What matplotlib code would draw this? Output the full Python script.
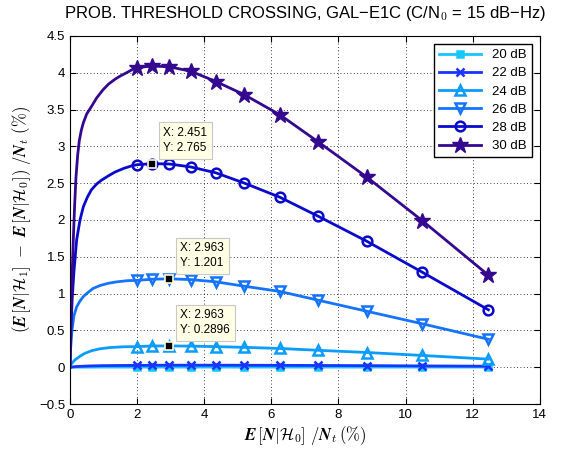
import matplotlib
matplotlib.use("Agg")
import matplotlib.pyplot as plt

plt.rcParams['font.family'] = ['Liberation Sans', 'DejaVu Sans']
plt.rcParams['mathtext.fontset'] = 'cm'

# ---- data ----
snr_labels = ['20 dB', '22 dB', '24 dB', '26 dB', '28 dB', '30 dB']

# marker positions (x) shared by all curves
x_mk = [2.0, 2.451, 2.963, 3.6, 4.35, 5.2, 6.25, 7.4, 8.85, 10.5, 12.47]

# rising part near origin (no markers)
x_rise_20 = [0.0, 0.5, 1.0, 1.5]
y_rise_20 = [0.0, 0.001, 0.002, 0.002]
x_rise_22 = [0.0, 0.2, 0.6, 1.0, 1.5]
y_rise_22 = [0.0, 0.010, 0.018, 0.022, 0.024]
x_rise_24 = [0.0, 0.05, 0.15, 0.3, 0.45, 0.65, 0.89, 1.2, 1.6]
y_rise_24 = [0.0, 0.05, 0.10, 0.15, 0.19, 0.225, 0.25, 0.268, 0.278]
x_rise_26 = [0.0, 0.02, 0.06, 0.12, 0.2, 0.3, 0.4, 0.55, 0.69, 0.9, 1.14, 1.4, 1.7]
y_rise_26 = [0.0, 0.25, 0.50, 0.70, 0.82, 0.90, 0.96, 1.02, 1.07, 1.11, 1.14, 1.16, 1.175]
x_rise_28 = [0.0, 0.03, 0.07, 0.12, 0.2, 0.3, 0.4, 0.52, 0.64, 0.8, 0.94, 1.15, 1.34, 1.6, 1.84]
y_rise_28 = [0.0, 0.55, 0.95, 1.30, 1.73, 2.00, 2.18, 2.31, 2.41, 2.49, 2.54, 2.60, 2.65, 2.70, 2.735]
x_rise_30 = [0.0, 0.02, 0.05, 0.08, 0.11, 0.14, 0.18, 0.23, 0.28, 0.34, 0.40, 0.5, 0.64, 0.8,
             0.99, 1.15, 1.34, 1.5, 1.69, 1.85]
y_rise_30 = [0.0, 0.55, 1.05, 1.45, 1.85, 2.20, 2.58, 2.88, 3.08, 3.22, 3.32, 3.44, 3.54, 3.66,
             3.77, 3.845, 3.91, 3.955, 4.0, 4.04]

# values at marker positions
y_20 = [0.002, 0.002, 0.002, 0.002, 0.002, 0.002, 0.002, 0.002, 0.002, 0.002, 0.002]
y_22 = [0.025, 0.027, 0.028, 0.028, 0.028, 0.027, 0.026, 0.024, 0.022, 0.018, 0.014]
y_24 = [0.280, 0.289, 0.2896, 0.287, 0.280, 0.270, 0.255, 0.230, 0.200, 0.160, 0.110]
y_26 = [1.18, 1.195, 1.201, 1.19, 1.16, 1.10, 1.03, 0.91, 0.76, 0.59, 0.38]
y_28 = [2.75, 2.765, 2.76, 2.72, 2.64, 2.50, 2.31, 2.05, 1.71, 1.29, 0.78]
y_30 = [4.07, 4.09, 4.08, 4.02, 3.88, 3.70, 3.43, 3.06, 2.58, 1.99, 1.25]

# data tips: (x, y)
tips_x = [2.451, 2.963, 2.963]
tips_y = [2.765, 1.201, 0.2896]

rises = [(x_rise_20, y_rise_20), (x_rise_22, y_rise_22), (x_rise_24, y_rise_24),
         (x_rise_26, y_rise_26), (x_rise_28, y_rise_28), (x_rise_30, y_rise_30)]
marks = [y_20, y_22, y_24, y_26, y_28, y_30]

colors = ['#14c8ff', '#1a33ff', '#0a9cff', '#1473ff', '#0a0acc', '#34088f']
markers = ['s', 'x', '^', 'v', 'o', '*']
msizes = [5, 6, 7.5, 7.5, 7, 12]

fig = plt.figure(figsize=(5.64, 4.54), dpi=100)
ax = fig.add_axes([0.124, 0.110, 0.833, 0.811])

for i in range(len(snr_labels)):
    xr, yr = rises[i]
    xs = xr + x_mk
    ys = yr + marks[i]
    mfc = colors[i] if markers[i] in ('s', '*') else 'none'
    ax.plot(xs, ys, color=colors[i], lw=2.0, marker=markers[i], ms=msizes[i],
            mew=1.8 if markers[i] != '*' else 1.0, mfc=mfc, mec=colors[i],
            markevery=list(range(len(xr), len(xs))), label=snr_labels[i])

for tx, ty in zip(tips_x, tips_y):
    ax.plot(tx, ty, 's', color='k', ms=6, mec='#fffbd5', mew=1.2, zorder=5)
    ax.annotate('X: %s\nY: %s' % (tx, ty), xy=(tx, ty), xytext=(8, 7),
                textcoords='offset points', ha='left', va='bottom', fontsize=8.5,
                linespacing=1.3,
                bbox=dict(boxstyle='square,pad=0.4', fc='#ffffe6', ec='#c8c8c8', lw=0.8),
                zorder=6)

ax.set_xlim(0, 14)
ax.set_ylim(-0.5, 4.5)
ax.set_xticks(range(0, 15, 2))
ax.set_yticks([-0.5, 0, 0.5, 1, 1.5, 2, 2.5, 3, 3.5, 4, 4.5])
ax.set_yticklabels(['\u22120.5', '0', '0.5', '1', '1.5', '2', '2.5', '3', '3.5', '4', '4.5'])
ax.tick_params(direction='in', top=True, right=True, labelsize=9.5, length=4)
ax.grid(True, linestyle=(0, (1, 3)), color='k', lw=0.6)

ax.set_xlabel(r'$\mathbfit{E}\,[\mathbfit{N}|\mathcal{H}_0]\ /\mathbfit{N}_t\,(\%)$', fontsize=12, labelpad=2)
ax.set_ylabel(r'$(\mathbfit{E}\,[\mathbfit{N}|\mathcal{H}_1]\ -\ \mathbfit{E}\,[\mathbfit{N}|\mathcal{H}_0])\ /\mathbfit{N}_t\ (\%)$',
              fontsize=12, labelpad=4)
ax.set_title('PROB. THRESHOLD CROSSING, GAL\u2212E1C (C/N$_0$ = 15 dB\u2212Hz)', fontsize=12, pad=13)

leg = ax.legend(loc='upper right', fontsize=9.5, fancybox=False, edgecolor='k',
                framealpha=1, handlelength=3.2, borderaxespad=0.6, labelspacing=0.45)
leg.get_frame().set_linewidth(1.0)

fig.savefig('out.png', dpi=100)
